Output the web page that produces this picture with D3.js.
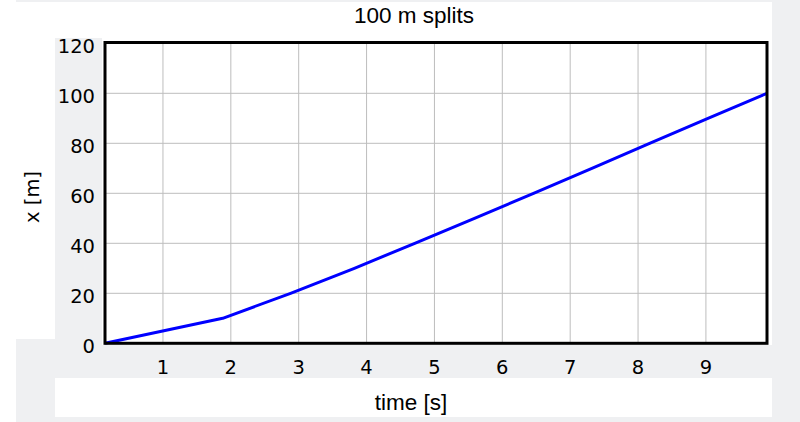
<!DOCTYPE html>
<html>
<head>
<meta charset="utf-8">
<script src="https://cdn.jsdelivr.net/npm/d3@7"></script>
<style>
  body { margin: 0; background: #ffffff; }
  svg { display: block; }
</style>
</head>
<body>
<div id="svg-area"></div>
<script>
var svgWidth = 800;
var svgHeight = 422;

// split data: time [s] at each 10 m mark (first point = start after reaction)
var splitTime = [0.146, 1.88, 2.88, 3.82, 4.71, 5.59, 6.46, 7.32, 8.17, 9.03, 9.90];
var splitDistance = [0, 10, 20, 30, 40, 50, 60, 70, 80, 90, 100];

// axis ticks
var timeTicks = [1, 2, 3, 4, 5, 6, 7, 8, 9];
var distanceTicks = [0, 20, 40, 60, 80, 100, 120];
var timeDomain = [0.146, 9.90];
var distanceDomain = [0, 120];

var svg = d3.select("#svg-area")
  .append("svg")
  .attr("width", svgWidth)
  .attr("height", svgHeight);

// page panels (gray frame with white boxes)
var gray = "#eff0f2";
svg.append("rect").attr("x", 16).attr("y", 0).attr("width", 784).attr("height", 422).attr("fill", gray);
var boxes = [
  [16, 2, 756, 36],    // title box
  [16, 38, 39, 301],   // y label box
  [102, 38, 670, 307], // plot box
  [55, 378, 717, 39]   // x label box
];
boxes.forEach(function(b) {
  svg.append("rect").attr("x", b[0]).attr("y", b[1]).attr("width", b[2]).attr("height", b[3]).attr("fill", "#ffffff");
});
// gray band under the plot for x tick labels
svg.append("rect").attr("x", 16).attr("y", 345).attr("width", 756).attr("height", 33).attr("fill", gray);

// scales
var xScale = d3.scaleLinear().domain(timeDomain).range([105, 767]);
var yScale = d3.scaleLinear().domain(distanceDomain).range([343.3, 43.3]);

// grid lines
svg.append("g")
  .selectAll("line")
  .data(timeTicks)
  .enter()
  .append("line")
  .attr("x1", function(d) { return xScale(d); })
  .attr("x2", function(d) { return xScale(d); })
  .attr("y1", yScale(120))
  .attr("y2", yScale(0))
  .attr("stroke", "#bdbdbd")
  .attr("stroke-width", 1);

svg.append("g")
  .selectAll("line")
  .data(distanceTicks.slice(1, -1))
  .enter()
  .append("line")
  .attr("x1", xScale.range()[0])
  .attr("x2", xScale.range()[1])
  .attr("y1", function(d) { return yScale(d); })
  .attr("y2", function(d) { return yScale(d); })
  .attr("stroke", "#bdbdbd")
  .attr("stroke-width", 1);

// data line
var coordinates = splitTime.map(function(t, i) { return [t, splitDistance[i]]; });
var lineGenerator = d3.line()
  .x(function(d) { return xScale(d[0]); })
  .y(function(d) { return yScale(d[1]); });

svg.append("path")
  .attr("d", lineGenerator(coordinates))
  .attr("fill", "none")
  .attr("stroke", "#0000ff")
  .attr("stroke-width", 3)
  .attr("stroke-linejoin", "round");

// plot border
svg.append("rect")
  .attr("x", xScale.range()[0])
  .attr("y", yScale(120) - 0.8)
  .attr("width", xScale.range()[1] - xScale.range()[0])
  .attr("height", yScale(0) - yScale(120) + 0.8)
  .attr("fill", "none")
  .attr("stroke", "#000000")
  .attr("stroke-width", 3);

// tick labels
svg.append("g")
  .selectAll("text")
  .data(distanceTicks)
  .enter()
  .append("text")
  .attr("x", 95)
  .attr("y", function(d) { return yScale(d) + 10; })
  .attr("text-anchor", "end")
  .style("font-family", "DejaVu Sans, Verdana, sans-serif")
  .style("font-size", "19.5px")
  .attr("fill", "#000")
  .text(function(d) { return d; });

svg.append("g")
  .selectAll("text")
  .data(timeTicks)
  .enter()
  .append("text")
  .attr("x", function(d) { return xScale(d); })
  .attr("y", 374)
  .attr("text-anchor", "middle")
  .style("font-family", "DejaVu Sans, Verdana, sans-serif")
  .style("font-size", "19.5px")
  .attr("fill", "#000")
  .text(function(d) { return d; });

// titles
svg.append("text")
  .attr("x", 414)
  .attr("y", 22.7)
  .attr("text-anchor", "middle")
  .style("font-family", "Liberation Sans, Arial, sans-serif")
  .style("font-size", "22.5px")
  .attr("fill", "#000")
  .text("100 m splits");

svg.append("text")
  .attr("x", 411)
  .attr("y", 410)
  .attr("text-anchor", "middle")
  .style("font-family", "Liberation Sans, Arial, sans-serif")
  .style("font-size", "22.5px")
  .attr("fill", "#000")
  .text("time [s]");

svg.append("text")
  .attr("transform", "translate(39,197) rotate(-90)")
  .attr("text-anchor", "middle")
  .style("font-family", "DejaVu Sans, Verdana, sans-serif")
  .style("font-size", "19.5px")
  .attr("fill", "#000")
  .text("x [m]");
</script>
</body>
</html>
